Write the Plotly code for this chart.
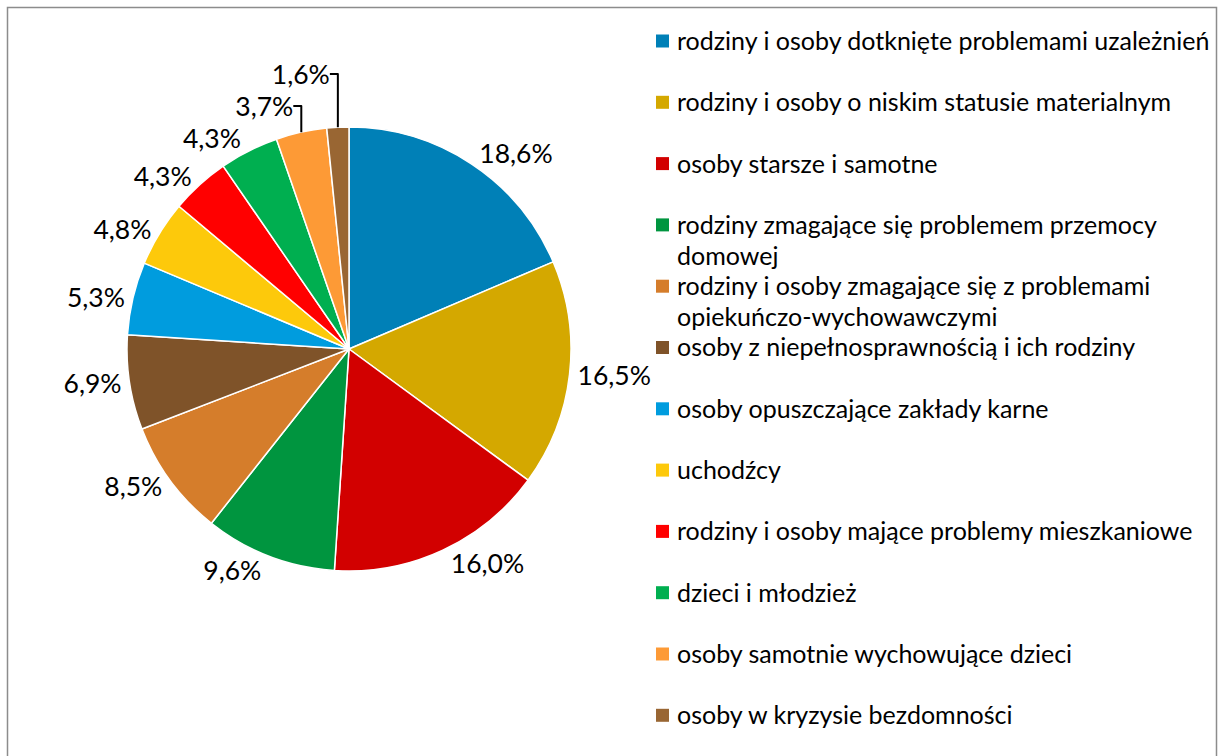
import plotly.graph_objects as go

# data
labels = [
    "rodziny i osoby dotknięte problemami uzależnień",
    "rodziny i osoby o niskim statusie materialnym",
    "osoby starsze i samotne",
    "rodziny zmagające się problemem przemocy<br>domowej",
    "rodziny i osoby zmagające się z problemami<br>opiekuńczo-wychowawczymi",
    "osoby z niepełnosprawnością i ich rodziny",
    "osoby opuszczające zakłady karne",
    "uchodźcy",
    "rodziny i osoby mające problemy mieszkaniowe",
    "dzieci i młodzież",
    "osoby samotnie wychowujące dzieci",
    "osoby w kryzysie bezdomności",
]
values = [18.6, 16.5, 16.0, 9.6, 8.5, 6.9, 5.3, 4.8, 4.3, 4.3, 3.7, 1.6]
colors = ["#0080B7", "#D4A800", "#D20000", "#00953F", "#D57D2B", "#7F5329",
          "#009CDE", "#FDC90B", "#FF0000", "#00AF50", "#FD9A36", "#996633"]

W, H = 1219, 756
FONT = "Lato"
FS_LEG = 25
FS_PIE = 26.5

# pie geometry in pixels
cx, cy, r = 349, 349, 222

fig = go.Figure()
fig.add_trace(go.Pie(
    labels=[l.replace("<br>", " ") for l in labels],
    values=values,
    sort=False,
    direction="clockwise",
    rotation=0,
    marker=dict(colors=colors, line=dict(color="white", width=1.5)),
    texttemplate="%{value:.1f}%",
    textposition="outside",
    outsidetextfont=dict(family=FONT, size=FS_PIE, color="black"),
    domain=dict(x=[(cx - r) / W, (cx + r) / W],
                y=[(H - cy - r) / H, (H - cy + r) / H]),
    showlegend=False,
    hoverinfo="label+value",
))

# hand-made legend so the spacing matches the original
annotations = []
shapes = []
slot = 61.3
line_h = 31
sq = 13
for i, (lab, col) in enumerate(zip(labels, colors)):
    y0 = 40 + i * slot
    shapes.append(dict(type="rect", xref="paper", yref="paper",
                       x0=656 / W, x1=(656 + sq) / W,
                       y0=1 - (y0 + 1 + sq / 2) / H, y1=1 - (y0 + 1 - sq / 2) / H,
                       fillcolor=col, line=dict(width=0)))
    for j, part in enumerate(lab.split("<br>")):
        annotations.append(dict(text=part, xref="paper", yref="paper",
                                x=675 / W, y=1 - (y0 + j * line_h) / H,
                                xanchor="left", yanchor="middle", showarrow=False,
                                font=dict(family=FONT, size=FS_LEG, color="black")))

# outer frame (bottom edge lies below the visible area)
shapes.append(dict(type="rect", xref="paper", yref="paper",
                   x0=7.5 / W, x1=1216.5 / W, y0=-0.01, y1=1 - 7.5 / H,
                   line=dict(color="#8C8C8C", width=1.5), fillcolor="rgba(0,0,0,0)"))

fig.update_layout(
    width=W, height=H,
    margin=dict(l=0, r=0, t=0, b=0),
    separators=", ",
    paper_bgcolor="white",
    plot_bgcolor="white",
    font=dict(family=FONT, size=FS_LEG, color="black"),
    annotations=annotations,
    shapes=shapes,
)

# drop the default page margin so the figure sits at the window origin
fig.write_html("out.html", config={"displayModeBar": False},
               post_script="document.body.style.margin='0';")
